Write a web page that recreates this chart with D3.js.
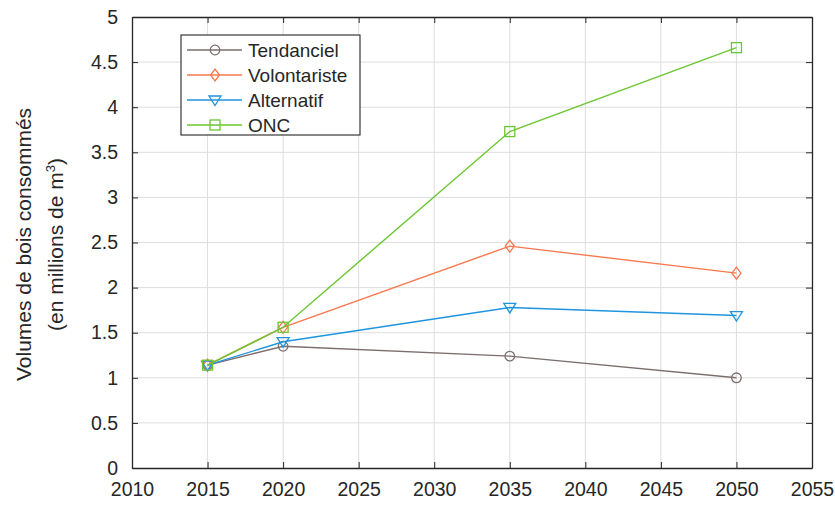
<!DOCTYPE html>
<html>
<head>
<meta charset="utf-8">
<script src="https://cdn.jsdelivr.net/npm/d3@7"></script>
<style>
  body { margin: 0; background: #fff; }
  text { font-family: "Liberation Sans", Arial, sans-serif; fill: #262626; }
</style>
</head>
<body>
<svg id="chart" width="835" height="505"></svg>
<script>
var years = [2015, 2020, 2035, 2050];
var tendanciel = [1.14, 1.35, 1.24, 1.0];
var volontariste = [1.14, 1.56, 2.46, 2.16];
var alternatif = [1.14, 1.40, 1.78, 1.69];
var onc = [1.14, 1.56, 3.73, 4.66];
var seriesNames = ["Tendanciel", "Volontariste", "Alternatif", "ONC"];
var xTicks = [2010, 2015, 2020, 2025, 2030, 2035, 2040, 2045, 2050, 2055];
var yTicks = [0, 0.5, 1, 1.5, 2, 2.5, 3, 3.5, 4, 4.5, 5];

var colors = ["#7d6e6e", "#f7784f", "#1e95de", "#6cc631"];
var markers = ["circle", "diamond", "triangle", "square"];
var allSeries = [tendanciel, volontariste, alternatif, onc];

var svg = d3.select("#chart"),
    pLeft = 132, pRight = 812, pTop = 17, pBottom = 468;

var x = d3.scaleLinear().domain([2010, 2055]).range([pLeft, pRight]);
var y = d3.scaleLinear().domain([0, 5]).range([pBottom, pTop]);

// grid
svg.append("g").selectAll("line").data(xTicks.slice(1, -1)).enter().append("line")
    .attr("x1", d => x(d)).attr("x2", d => x(d)).attr("y1", pTop).attr("y2", pBottom)
    .attr("stroke", "#dedede").attr("stroke-width", 1);
svg.append("g").selectAll("line").data(yTicks.slice(1, -1)).enter().append("line")
    .attr("y1", d => y(d)).attr("y2", d => y(d)).attr("x1", pLeft).attr("x2", pRight)
    .attr("stroke", "#dedede").attr("stroke-width", 1);

// axes (inward ticks, box)
var xAxis = svg.append("g").attr("transform", "translate(0," + pBottom + ")")
    .call(d3.axisBottom(x).tickValues(xTicks).tickFormat(d3.format("d")).tickSizeInner(-6).tickSizeOuter(0).tickPadding(14));
var xAxisTop = svg.append("g").attr("transform", "translate(0," + pTop + ")")
    .call(d3.axisTop(x).tickValues(xTicks).tickFormat("").tickSizeInner(-6).tickSizeOuter(0));
var yAxis = svg.append("g").attr("transform", "translate(" + pLeft + ",0)")
    .call(d3.axisLeft(y).tickValues(yTicks).tickFormat(d3.format("")).tickSizeInner(-6).tickSizeOuter(0).tickPadding(14));
var yAxisRight = svg.append("g").attr("transform", "translate(" + pRight + ",0)")
    .call(d3.axisRight(y).tickValues(yTicks).tickFormat("").tickSizeInner(-6).tickSizeOuter(0));

[xAxis, xAxisTop, yAxis, yAxisRight].forEach(function (a) {
    a.select(".domain").attr("stroke", "#262626").attr("stroke-width", 1.3);
    a.selectAll(".tick line").attr("stroke", "#262626").attr("stroke-width", 1);
    a.selectAll("text").attr("font-size", "19.5px").attr("fill", "#262626")
        .attr("font-family", "Liberation Sans, Arial, sans-serif");
});

// axis label
var lab = svg.append("text")
    .attr("transform", "translate(31," + ((pTop + pBottom) / 2 + 2) + ") rotate(-90)")
    .attr("text-anchor", "middle").attr("font-size", "21px");
lab.append("tspan").attr("x", 0).attr("dy", 0).text("Volumes de bois consommés");
lab.append("tspan").attr("x", 0).attr("dy", 32).text("(en millions de m");
lab.append("tspan").attr("font-size", "13px").attr("dy", -8).text("3");
lab.append("tspan").attr("dy", 8).text(")");

function drawMarker(g, type, cx, cy, color) {
    if (type === "circle") {
        g.append("circle").attr("cx", cx).attr("cy", cy).attr("r", 4.8)
            .attr("fill", "none").attr("stroke", color).attr("stroke-width", 1.3);
    } else if (type === "diamond") {
        g.append("path").attr("d", "M" + cx + "," + (cy - 6) + "L" + (cx + 4.5) + "," + cy + "L" + cx + "," + (cy + 6) + "L" + (cx - 4.5) + "," + cy + "Z")
            .attr("fill", "none").attr("stroke", color).attr("stroke-width", 1.3);
    } else if (type === "triangle") {
        g.append("path").attr("d", "M" + (cx - 6) + "," + (cy - 4) + "L" + (cx + 6) + "," + (cy - 4) + "L" + cx + "," + (cy + 5.5) + "Z")
            .attr("fill", "none").attr("stroke", color).attr("stroke-width", 1.3);
    } else {
        g.append("rect").attr("x", cx - 5).attr("y", cy - 5).attr("width", 10).attr("height", 10)
            .attr("fill", "none").attr("stroke", color).attr("stroke-width", 1.3);
    }
}

var line = d3.line().x((d, i) => x(years[i])).y(d => y(d));

allSeries.forEach(function (vals, k) {
    var g = svg.append("g");
    g.append("path").datum(vals).attr("d", line)
        .attr("fill", "none").attr("stroke", colors[k]).attr("stroke-width", 1.4);
    vals.forEach(function (v, i) {
        drawMarker(g, markers[k], x(years[i]), y(v), colors[k]);
    });
});

// legend
var leg = svg.append("g");
leg.append("rect").attr("x", 181).attr("y", 35).attr("width", 179).attr("height", 100)
    .attr("fill", "#fff").attr("stroke", "#262626").attr("stroke-width", 1.1);
seriesNames.forEach(function (name, k) {
    var ly = 50 + k * 25;
    leg.append("line").attr("x1", 187).attr("x2", 242).attr("y1", ly).attr("y2", ly)
        .attr("stroke", colors[k]).attr("stroke-width", 1.4);
    drawMarker(leg, markers[k], 215, ly, colors[k]);
    leg.append("text").attr("x", 248).attr("y", ly).attr("dy", "0.36em")
        .attr("font-size", "19px").text(name);
});
</script>
</body>
</html>
